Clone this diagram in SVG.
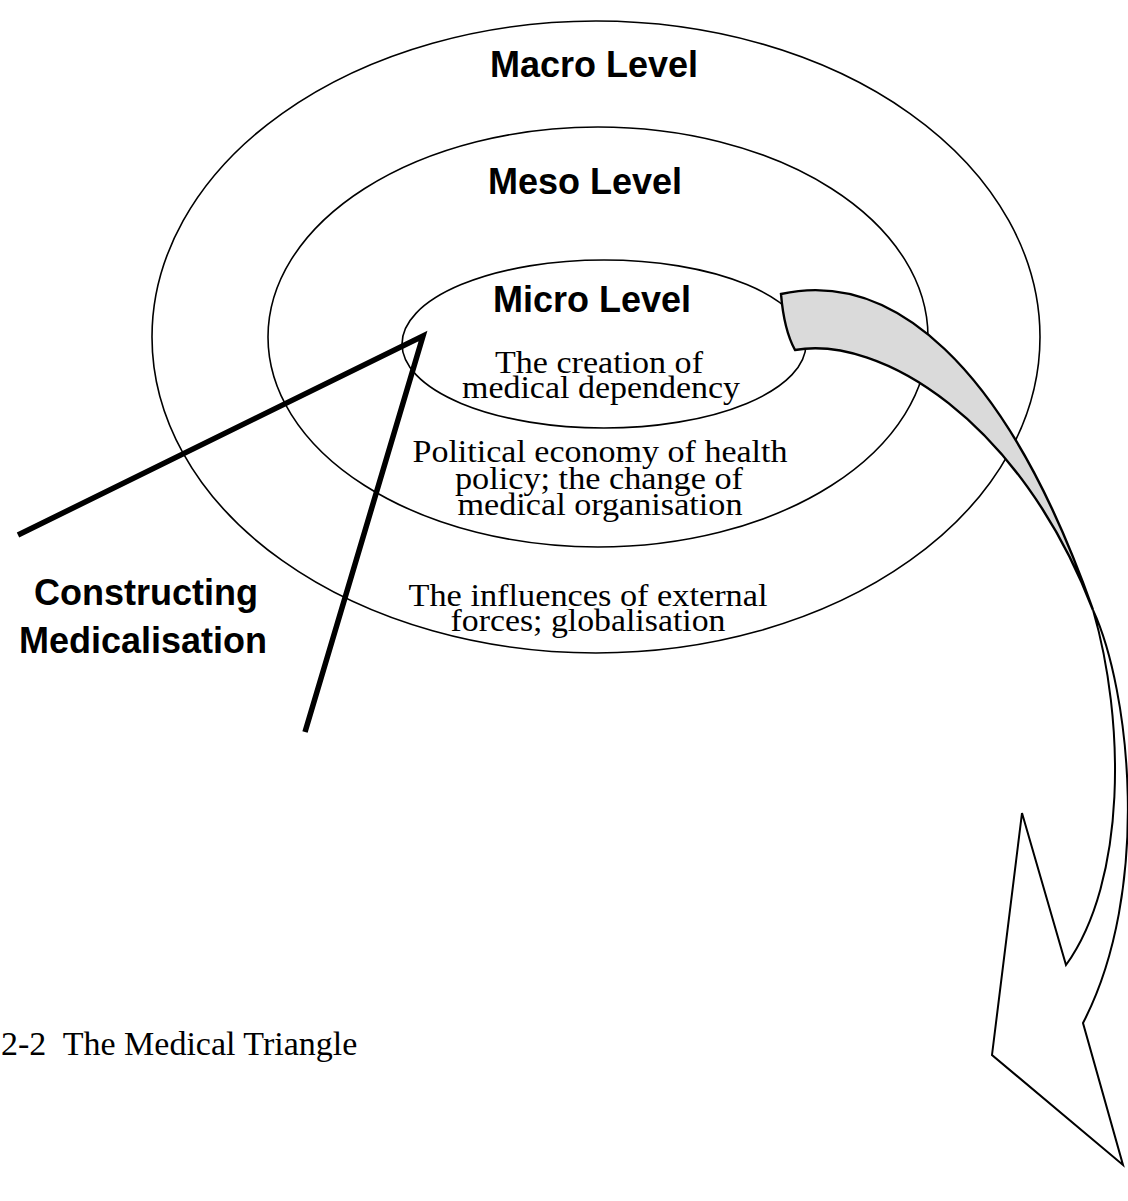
<svg xmlns="http://www.w3.org/2000/svg" width="1128" height="1201" viewBox="0 0 1128 1201">
  <style>
    .ring { fill: none; stroke: #000; stroke-width: 1.6; }
    .lvl { font-family: "Liberation Sans", Arial, sans-serif; font-weight: bold; font-size: 36px; fill: #000; text-anchor: middle; }
    .desc { font-family: "Liberation Serif", "Times New Roman", serif; font-size: 31px; fill: #000; text-anchor: middle; }
    .thick { fill: none; stroke: #000; stroke-width: 5.5; stroke-linejoin: miter; stroke-linecap: butt; }
    .ribbon { fill: #dadada; stroke: #000; stroke-width: 2.4; stroke-linejoin: miter; }
    .shaft { fill: #fff; stroke: #000; stroke-width: 2; stroke-linejoin: miter; }
  </style>
  <rect width="1128" height="1201" fill="#fff"/>

  <g id="macro">
    <ellipse class="ring" cx="596" cy="337" rx="444" ry="316"/>
    <text class="lvl" x="594" y="77">Macro Level</text>
    <text class="desc" x="588" y="606" textLength="359" lengthAdjust="spacingAndGlyphs">The influences of external</text>
    <text class="desc" x="588" y="631" textLength="275" lengthAdjust="spacingAndGlyphs">forces; globalisation</text>
  </g>

  <g id="meso">
    <ellipse class="ring" cx="598" cy="337" rx="330" ry="210"/>
    <text class="lvl" x="585" y="194">Meso Level</text>
    <text class="desc" x="600" y="462" textLength="375" lengthAdjust="spacingAndGlyphs">Political economy of health</text>
    <text class="desc" x="599" y="489" textLength="288" lengthAdjust="spacingAndGlyphs">policy; the change of</text>
    <text class="desc" x="600" y="515" textLength="285" lengthAdjust="spacingAndGlyphs">medical organisation</text>
  </g>

  <g id="micro">
    <ellipse class="ring" cx="604" cy="344" rx="202" ry="84"/>
    <text class="lvl" x="592" y="312">Micro Level</text>
    <text class="desc" x="599" y="373" textLength="208" lengthAdjust="spacingAndGlyphs">The creation of</text>
    <text class="desc" x="601" y="398" textLength="278" lengthAdjust="spacingAndGlyphs">medical dependency</text>
  </g>

  <g id="connectors">
    <polyline class="thick" points="18,535 423,336 305,732"/>
    <path class="ribbon" d="M781,294 C890,270 1005,360 1093,610 C1020,420 880,335 795,350 Q784,330 781,294 Z"/>
    <path class="shaft" d="M1093,610 C1130,690 1152,890 1083,1023 L1123,1165 L992,1055 L1022,813 L1066,965 C1127,880 1125,720 1093,610 Z"/>
  </g>

  <g id="label">
    <text class="lvl" x="146" y="605">Constructing</text>
    <text class="lvl" x="143" y="653">Medicalisation</text>
  </g>

  <g id="caption">
    <text font-family="Liberation Serif, 'Times New Roman', serif" font-size="34" x="1" y="1055" fill="#000" xml:space="preserve">2-2  The Medical Triangle</text>
  </g>
</svg>
